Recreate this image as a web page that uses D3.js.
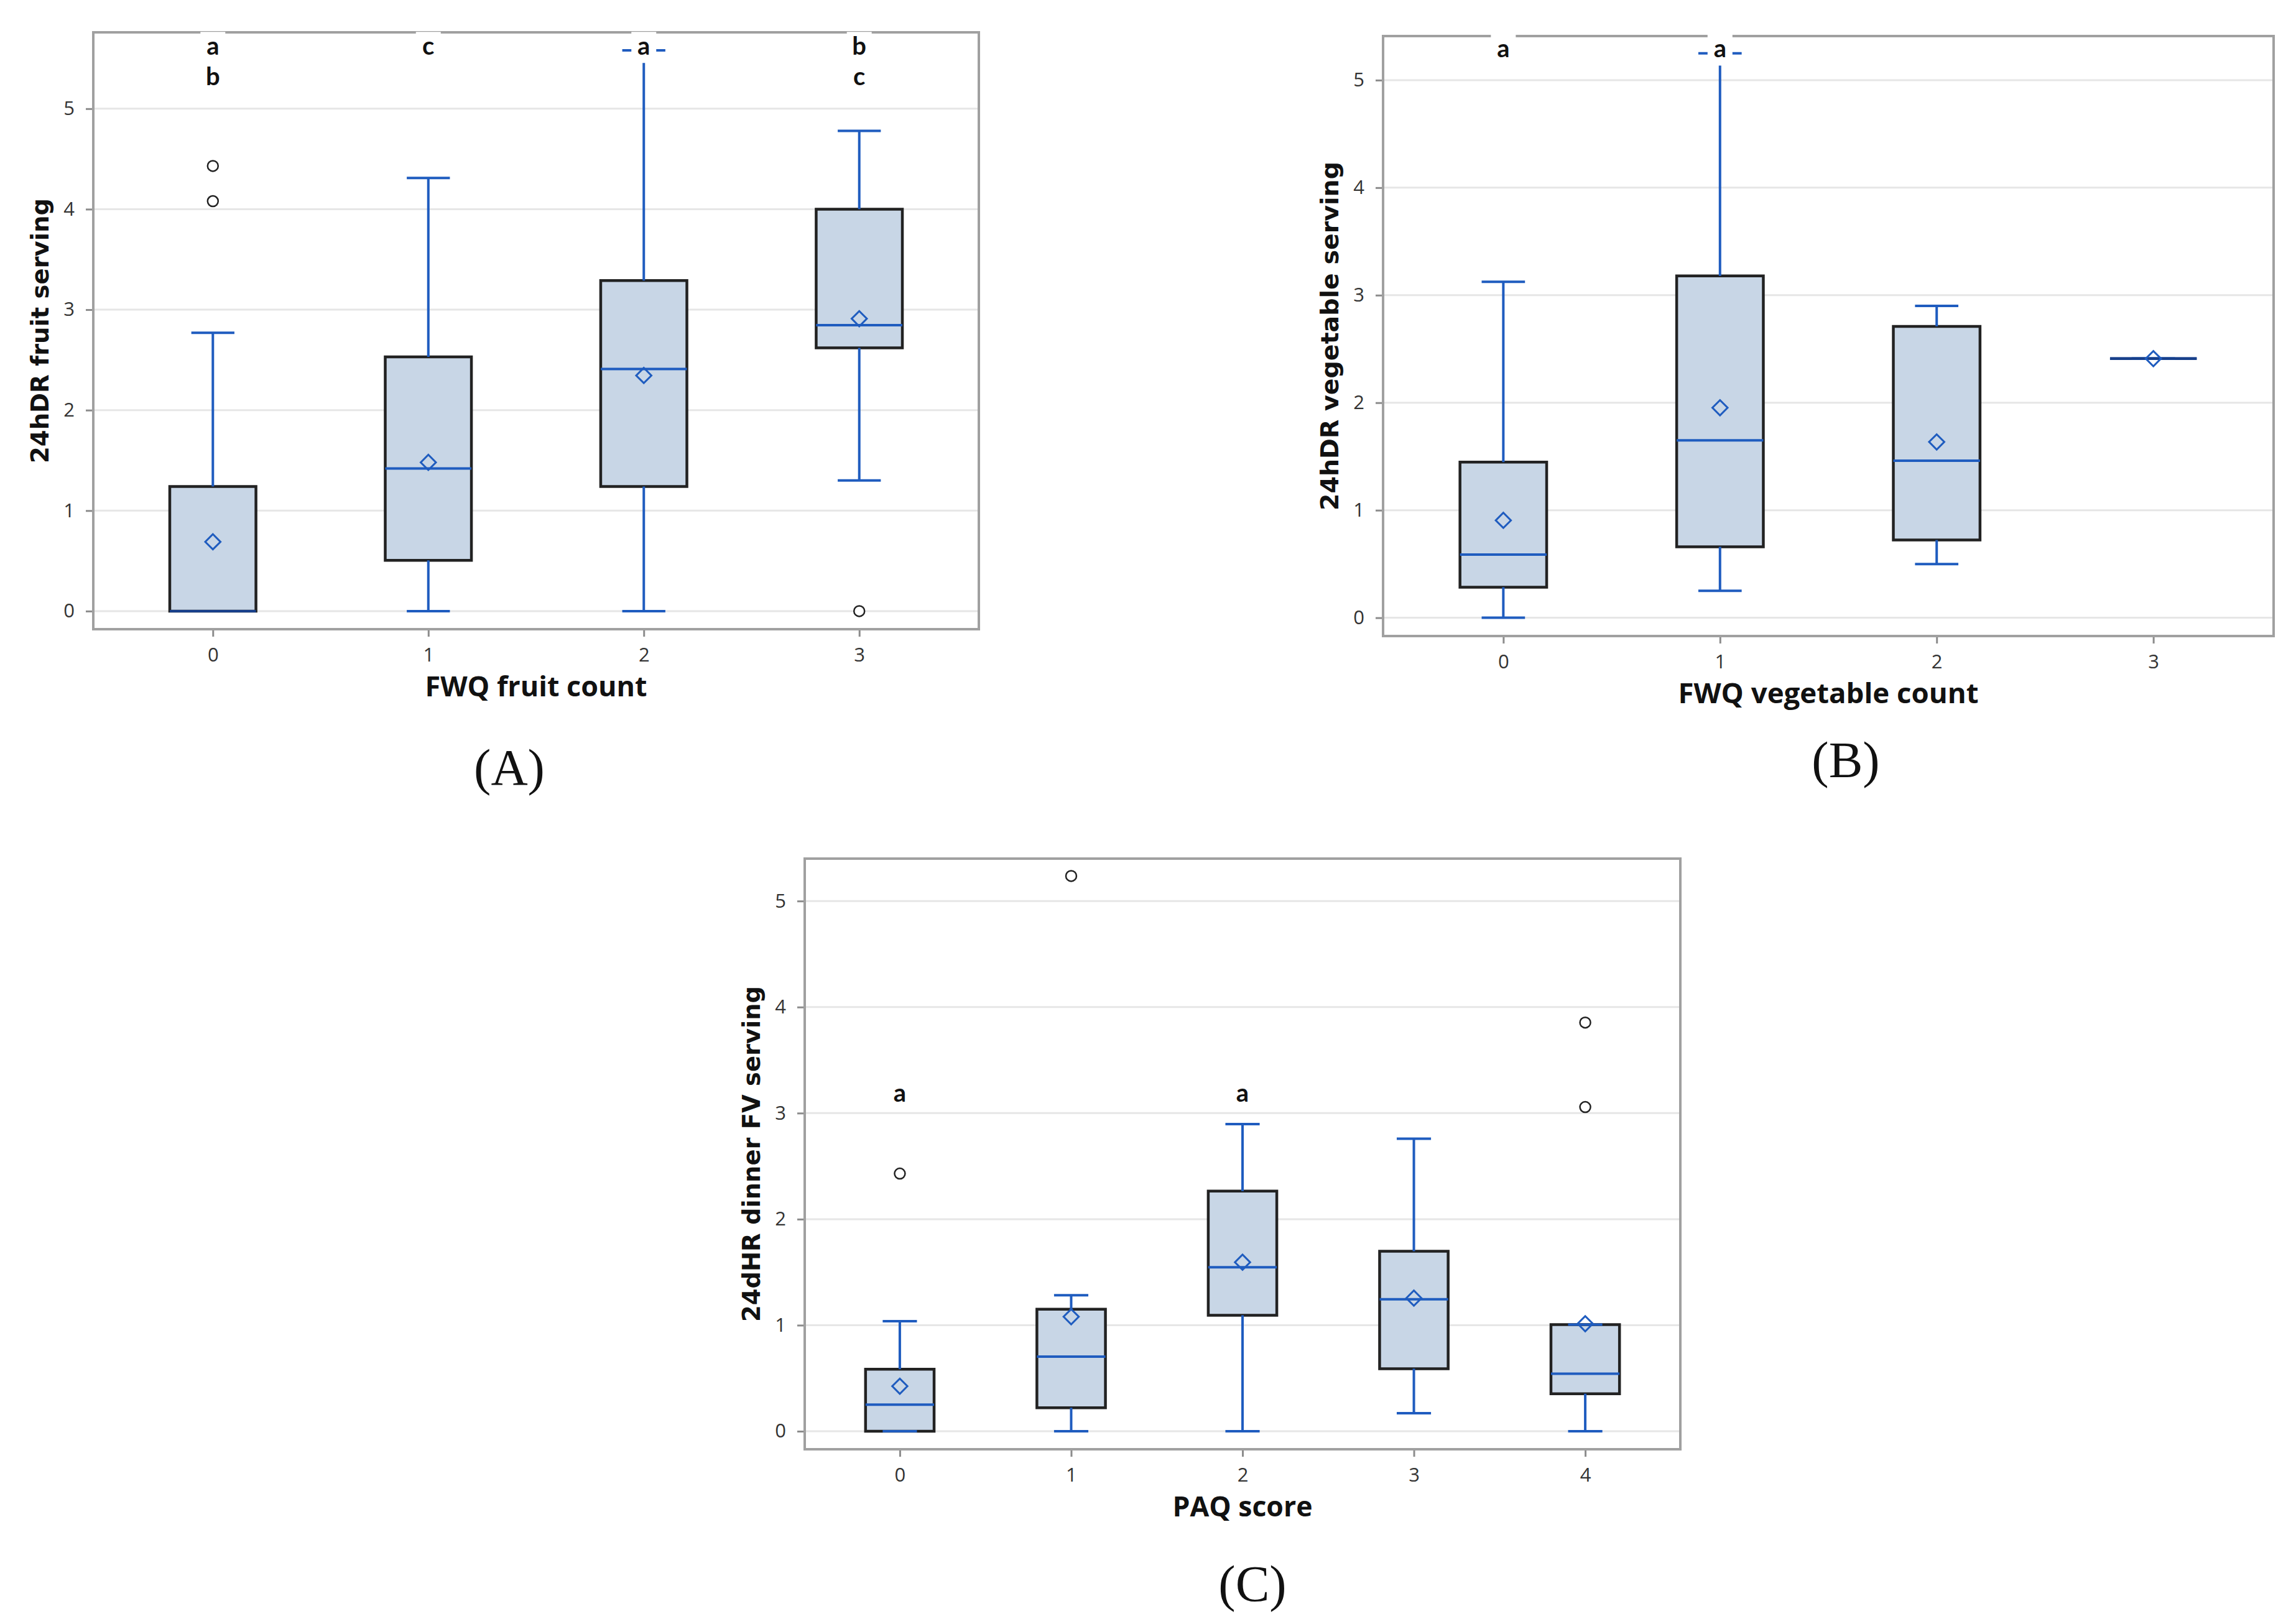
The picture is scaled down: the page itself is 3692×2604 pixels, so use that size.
<!DOCTYPE html>
<html lang="en">
<head>
<meta charset="utf-8">
<title>FV serving box plots</title>
<script src="https://cdn.jsdelivr.net/npm/d3@7"></script>
<style>
  body { margin: 0; background: #fff; }
</style>
</head>
<body>
<script>

// ---- (A) fruit ----
var fruitCats = ["0", "1", "2", "3"];
var fruitMin = [0, 0, 0, 1.30];
var fruitQ1 = [0, 0.505, 1.24, 2.62];
var fruitMed = [0, 1.42, 2.41, 2.845];
var fruitQ3 = [1.24, 2.53, 3.29, 4.0];
var fruitMax = [2.77, 4.31, 5.58, 4.78];
var fruitMean = [0.69, 1.48, 2.345, 2.91];
var fruitOut = [[4.43, 4.08], [], [], [0]];
var fruitLetters = [["a", "b"], ["c"], ["a"], ["b", "c"]];

// ---- (B) vegetable ----
var vegCats = ["0", "1", "2", "3"];
var vegMin = [0, 0.25, 0.50, 2.41];
var vegQ1 = [0.284, 0.66, 0.723, 2.41];
var vegMed = [0.588, 1.65, 1.46, 2.41];
var vegQ3 = [1.447, 3.18, 2.71, 2.41];
var vegMax = [3.125, 5.25, 2.90, 2.41];
var vegMean = [0.906, 1.953, 1.635, 2.41];
var vegOut = [[], [], [], []];
var vegLetters = [["a"], ["a"], [], []];

// ---- (C) PAQ ----
var paqCats = ["0", "1", "2", "3", "4"];
var paqMin = [0, 0, 0, 0.17, 0];
var paqQ1 = [0, 0.222, 1.094, 0.59, 0.354];
var paqMed = [0.25, 0.703, 1.547, 1.245, 0.542];
var paqQ3 = [0.585, 1.151, 2.264, 1.698, 1.005];
var paqMax = [1.038, 1.283, 2.896, 2.759, 1.005];
var paqMean = [0.425, 1.08, 1.594, 1.255, 1.014];
var paqOut = [[2.43], [5.236], [], [], [3.854, 3.057]];
var paqLetters = [["a"], [], ["a"], [], []];

var yTicks = [0, 1, 2, 3, 4, 5];

var blue = "#1f5cbf";
var boxFill = "#c8d6e6";

var svg = d3.select("body").append("svg")
    .attr("width", 3692)
    .attr("height", 2604)
    .style("background", "#fff");

var panels = [
  { cats: fruitCats, min: fruitMin, q1: fruitQ1, med: fruitMed, q3: fruitQ3, max: fruitMax,
    mean: fruitMean, out: fruitOut, letters: fruitLetters,
    xLabel: "FWQ fruit count", yLabel: "24hDR fruit serving", tag: "(A)",
    frame: [150, 52, 1574, 1012], yDomain: [-0.18, 5.76], letterY: 5.61,
    xLen: 357, yLen: 426, tagPos: [819, 1262] },
  { cats: vegCats, min: vegMin, q1: vegQ1, med: vegMed, q3: vegQ3, max: vegMax,
    mean: vegMean, out: vegOut, letters: vegLetters,
    xLabel: "FWQ vegetable count", yLabel: "24hDR vegetable serving", tag: "(B)",
    frame: [2224, 58, 3656, 1023], yDomain: [-0.17, 5.41], letterY: 5.28,
    xLen: 483, yLen: 561, tagPos: [2968, 1250] },
  { cats: paqCats, min: paqMin, q1: paqQ1, med: paqMed, q3: paqQ3, max: paqMax,
    mean: paqMean, out: paqOut, letters: paqLetters,
    xLabel: "PAQ score", yLabel: "24dHR dinner FV serving", tag: "(C)",
    frame: [1294, 1381, 2702, 2331], yDomain: [-0.17, 5.40], letterY: 3.18,
    xLen: 225, yLen: 540, tagPos: [2014, 2575] }
];

panels.forEach(drawPanel);

function drawPanel(p) {
  var x0 = p.frame[0], y0 = p.frame[1], x1 = p.frame[2], y1 = p.frame[3];

  var x = d3.scalePoint().domain(p.cats).range([x0, x1]).padding(0.555);
  var y = d3.scaleLinear().domain(p.yDomain).range([y1, y0]);
  var step = x.step();
  var bw = step * 0.4;   // box width
  var cw = step * 0.2;   // whisker cap width
  var rowGap = 49;       // line spacing of stacked letters

  var g = svg.append("g");

  // gridlines
  g.selectAll(".grid")
    .data(yTicks)
    .enter()
    .append("line")
    .attr("x1", x0).attr("x2", x1)
    .attr("y1", function(d) { return y(d); })
    .attr("y2", function(d) { return y(d); })
    .attr("stroke", "#e6e6e6")
    .attr("stroke-width", 3);

  // axes
  var yAxis = d3.axisLeft(y).tickValues(yTicks).tickSize(12).tickPadding(18).tickFormat(d3.format("d"));
  var gy = g.append("g").attr("transform", "translate(" + x0 + ",0)").call(yAxis);
  var xAxis = d3.axisBottom(x).tickSize(12).tickPadding(18);
  var gx = g.append("g").attr("transform", "translate(0," + y1 + ")").call(xAxis);
  [gy, gx].forEach(function(a) {
    a.select(".domain").remove();
    a.selectAll(".tick line").attr("stroke", "#8c8c8c").attr("stroke-width", 3);
    a.selectAll(".tick text")
      .attr("fill", "#333")
      .style("font-family", "'Open Sans', sans-serif")
      .style("font-size", "31px");
  });

  var rows = p.cats.map(function(c, i) {
    return { cat: c, min: p.min[i], q1: p.q1[i], med: p.med[i], q3: p.q3[i],
             max: p.max[i], mean: p.mean[i], out: p.out[i], letters: p.letters[i] };
  });

  // boxes (path so that a zero-height box still shows)
  g.selectAll(".box")
    .data(rows)
    .enter()
    .append("path")
    .attr("d", function(d) {
      var cx = x(d.cat);
      return "M" + (cx - bw / 2) + "," + y(d.q3) + "H" + (cx + bw / 2) +
             "V" + y(d.q1) + "H" + (cx - bw / 2) + "Z";
    })
    .attr("fill", boxFill)
    .attr("stroke", function(d) { return d.q1 === d.q3 ? "#173f8a" : "#222"; })
    .attr("stroke-width", 4.5);

  // whiskers
  var wh = g.selectAll(".wh").data(rows).enter().append("g").attr("stroke", blue).attr("stroke-width", 4);
  wh.append("line")
    .attr("x1", function(d) { return x(d.cat); })
    .attr("x2", function(d) { return x(d.cat); })
    .attr("y1", function(d) { return y(d.q3); })
    .attr("y2", function(d) { return y(d.max); });
  wh.append("line")
    .attr("x1", function(d) { return x(d.cat); })
    .attr("x2", function(d) { return x(d.cat); })
    .attr("y1", function(d) { return y(d.q1); })
    .attr("y2", function(d) { return y(d.min); });
  wh.append("line")
    .attr("x1", function(d) { return x(d.cat) - cw / 2; })
    .attr("x2", function(d) { return x(d.cat) + cw / 2; })
    .attr("y1", function(d) { return y(d.max); })
    .attr("y2", function(d) { return y(d.max); });
  wh.append("line")
    .attr("x1", function(d) { return x(d.cat) - cw / 2; })
    .attr("x2", function(d) { return x(d.cat) + cw / 2; })
    .attr("y1", function(d) { return y(d.min); })
    .attr("y2", function(d) { return y(d.min); });

  // median
  g.selectAll(".med")
    .data(rows)
    .enter()
    .append("line")
    .attr("x1", function(d) { return x(d.cat) - bw / 2; })
    .attr("x2", function(d) { return x(d.cat) + bw / 2; })
    .attr("y1", function(d) { return y(d.med); })
    .attr("y2", function(d) { return y(d.med); })
    .attr("stroke", function(d) { return d.med === d.q1 ? "#173f8a" : blue; })
    .attr("stroke-width", 4);

  // mean diamonds
  var diamond = d3.symbol().type(d3.symbolSquare).size(300);
  g.selectAll(".mean")
    .data(rows)
    .enter()
    .append("path")
    .attr("d", diamond)
    .attr("transform", function(d) { return "translate(" + x(d.cat) + "," + y(d.mean) + ") rotate(45)"; })
    .attr("fill", "none")
    .attr("stroke", blue)
    .attr("stroke-width", 3);

  // outliers
  var outs = [];
  rows.forEach(function(d) { d.out.forEach(function(v) { outs.push({ cat: d.cat, v: v }); }); });
  g.selectAll(".out")
    .data(outs)
    .enter()
    .append("circle")
    .attr("cx", function(d) { return x(d.cat); })
    .attr("cy", function(d) { return y(d.v); })
    .attr("r", 8.5)
    .attr("fill", "#fff")
    .attr("stroke", "#222")
    .attr("stroke-width", 2.5);

  // frame
  g.append("rect")
    .attr("x", x0).attr("y", y0)
    .attr("width", x1 - x0).attr("height", y1 - y0)
    .attr("fill", "none")
    .attr("stroke", "#a0a0a0")
    .attr("stroke-width", 4);

  // group letters, stacked rows
  var lets = [];
  rows.forEach(function(d) { d.letters.forEach(function(l, j) { lets.push({ cat: d.cat, l: l, row: j }); }); });
  var lg = g.selectAll(".let")
    .data(lets)
    .enter()
    .append("g")
    .attr("transform", function(d) { return "translate(" + x(d.cat) + "," + (y(p.letterY) + d.row * rowGap) + ")"; });
  lg.append("rect")
    .attr("x", -20).attr("y", -25)
    .attr("width", 40).attr("height", 50)
    .attr("fill", "#fff");
  lg.append("text")
    .attr("text-anchor", "middle")
    .attr("y", 12)
    .style("font-family", "Lato, sans-serif")
    .style("font-weight", "bold")
    .style("font-size", "40px")
    .attr("fill", "#111")
    .text(function(d) { return d.l; });

  // axis titles
  g.append("text")
    .attr("x", (x0 + x1) / 2)
    .attr("y", y1 + 108)
    .attr("text-anchor", "middle")
    .attr("textLength", p.xLen)
    .attr("lengthAdjust", "spacingAndGlyphs")
    .style("font-family", "'Open Sans', sans-serif")
    .style("font-weight", "bold")
    .style("font-size", "44px")
    .attr("fill", "#111")
    .text(p.xLabel);

  g.append("text")
    .attr("transform", "translate(" + (x0 - 86) + "," + ((y0 + y1) / 2) + ") rotate(-90)")
    .attr("text-anchor", "middle")
    .attr("dy", "0.35em")
    .attr("textLength", p.yLen)
    .attr("lengthAdjust", "spacingAndGlyphs")
    .style("font-family", "'DejaVu Sans', sans-serif")
    .style("font-weight", "bold")
    .style("font-size", "39px")
    .attr("fill", "#111")
    .text(p.yLabel);

  // panel tag
  svg.append("text")
    .attr("x", p.tagPos[0])
    .attr("y", p.tagPos[1])
    .attr("text-anchor", "middle")
    .style("font-family", "'Liberation Serif', serif")
    .style("font-size", "82px")
    .attr("fill", "#111")
    .text(p.tag);
}

</script>
</body>
</html>
